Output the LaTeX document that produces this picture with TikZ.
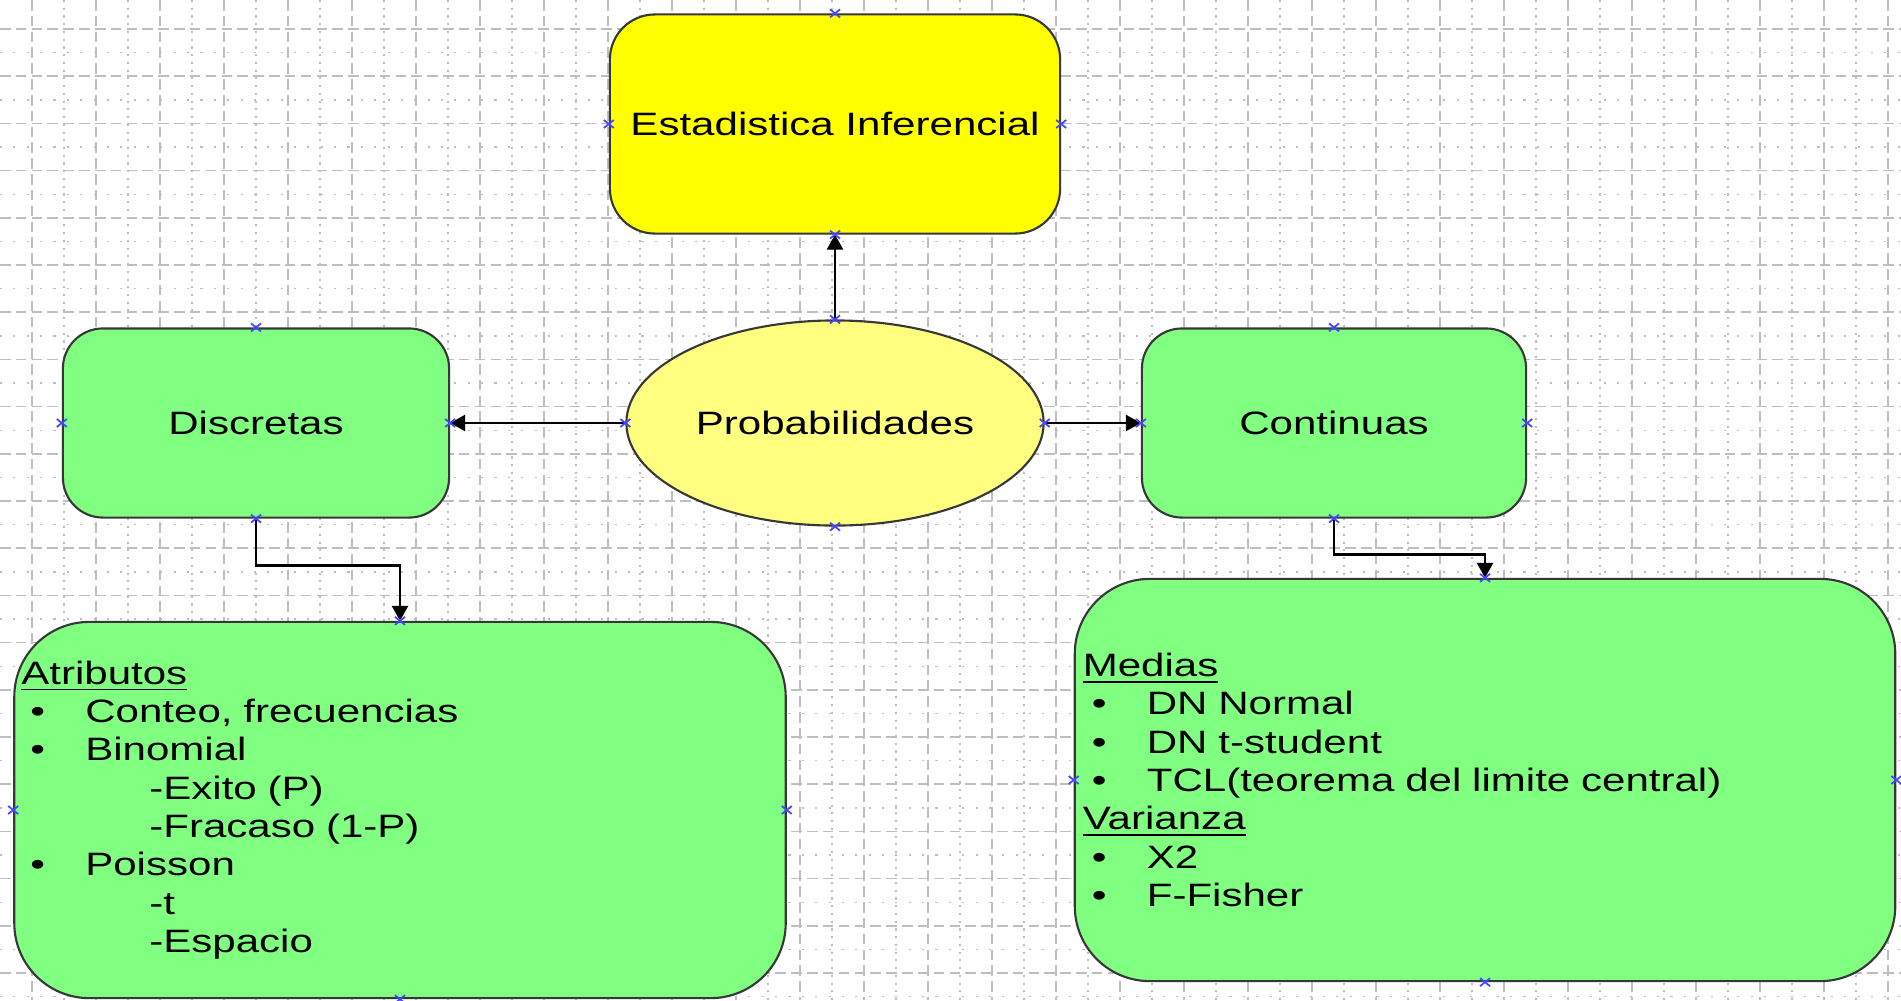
\documentclass[tikz,border=0pt]{standalone}
\usepackage{fontspec}
\setmainfont{Liberation Sans}[FakeStretch=1.3]
\usetikzlibrary{shapes.geometric,arrows.meta}
\definecolor{boxyellow}{RGB}{255,255,0}
\definecolor{ovalyellow}{RGB}{255,255,128}
\definecolor{boxgreen}{RGB}{128,255,128}
\definecolor{edgegray}{RGB}{55,55,55}
\definecolor{gridgray}{RGB}{190,190,190}
\definecolor{anchorblue}{RGB}{70,70,255}
\newcommand{\bitem}[1]{\hspace*{0.09cm}\makebox[0.55cm][l]{\textbullet}#1}
\newcommand{\sitem}[1]{\hspace*{1.28cm}#1}

\begin{document}
\begin{tikzpicture}[x=0.01cm, y=-0.01cm,
    every node/.style={font=\fontsize{9.2}{10.9}\selectfont},
    block/.style={draw=edgegray, line width=0.6pt, rectangle, inner sep=0pt},
    link/.style={line width=0.7pt, -{Triangle[length=0.15cm,width=0.16cm]}},
    anchorx/.style={anchorblue, line width=0.5pt}]
    \useasboundingbox (0,0) rectangle (1901,1000);
    % Grid paper
    \fill[white] (0,0) rectangle (1901,1000);
    \foreach \gx in {0,...,28}
        \draw[gridgray, line width=0.4pt, dash pattern=on 0.6pt off 1.6pt] (64+64*\gx,0) -- ++(0,1000);
    \foreach \gy in {0,...,20}
        \draw[gridgray, line width=0.4pt, dash pattern=on 0.6pt off 3.2pt] (0,52.6+47.2*\gy) -- ++(1901,0);
    \foreach \gx in {0,...,29}
        \draw[gridgray, line width=0.5pt, dash pattern=on 3pt off 1.5pt] (32+64*\gx,0) -- ++(0,1000);
    \foreach \gy in {0,...,20}
        \draw[gridgray, line width=0.5pt, dash pattern=on 3pt off 1.5pt] (0,29+47.2*\gy) -- ++(1901,0);

    % Top box and central oval
    \node[block, fill=boxyellow, rounded corners=0.45cm, minimum width=4.5cm, minimum height=2.19cm] (infer) at (835,124) {Estadistica Inferencial};
    \node[ellipse, draw=edgegray, line width=0.6pt, fill=ovalyellow, minimum width=4.17cm, minimum height=2.05cm, inner sep=0pt] (prob) at (835,423) {Probabilidades};

    % Side boxes
    \node[block, fill=boxgreen, rounded corners=0.4cm, minimum width=3.86cm, minimum height=1.89cm] (disc) at (256,423) {Discretas};
    \node[block, fill=boxgreen, rounded corners=0.4cm, minimum width=3.84cm, minimum height=1.89cm] (cont) at (1334,423) {Continuas};

    % Lists
    \node[block, fill=boxgreen, rounded corners=0.75cm, minimum height=3.76cm, text width=7.57cm, inner xsep=0.07cm, align=left] (atrib) at (400,810)
        {\underline{Atributos}\\
         \bitem{Conteo, frecuencias}\\
         \bitem{Binomial}\\
         \sitem{-Exito (P)}\\
         \sitem{-Fracaso (1-P)}\\
         \bitem{Poisson}\\
         \sitem{-t}\\
         \sitem{-Espacio}};
    \node[block, fill=boxgreen, rounded corners=0.75cm, minimum height=4.02cm, text width=8.04cm, inner xsep=0.08cm, align=left] (medias) at (1485,780)
        {\underline{Medias}\\
         \bitem{DN Normal}\\
         \bitem{DN t-student}\\
         \bitem{TCL(teorema del limite central)}\\
         \underline{Varianza}\\
         \bitem{X2}\\
         \bitem{F-Fisher}};

    % Connectors
    \draw[link] (prob.north) -- (infer.south);
    \draw[link] (prob.west) -- (disc.east);
    \draw[link] (prob.east) -- (cont.west);
    \draw[link] (disc.south) -- ++(0,47) -| (atrib.north);
    \draw[link] (cont.south) -- ++(0,36) -| (medias.north);

    % Anchor marks
    \foreach \n in {infer,prob,disc,cont,atrib,medias}
        \foreach \a in {north,south,east,west}
            \draw[anchorx] (\n.\a) +(-5,-4) -- +(5,4) +(-5,4) -- +(5,-4);
\end{tikzpicture}
\end{document}
